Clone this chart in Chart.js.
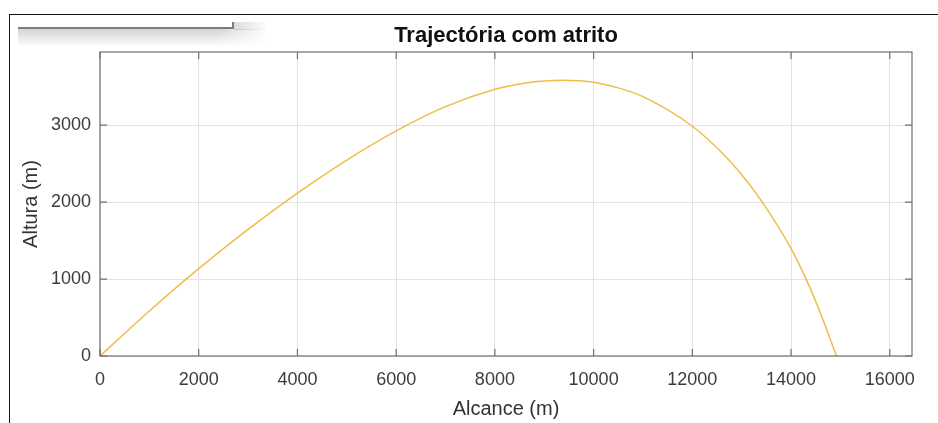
<!DOCTYPE html>
<html>
<head>
<meta charset="utf-8">
<title>Trajectória com atrito</title>
<script src="https://cdn.jsdelivr.net/npm/chart.js@4.4.1/dist/chart.umd.min.js"></script>
<style>
  html, body { margin: 0; padding: 0; background: #fff; }
  #wrap { position: relative; width: 938px; height: 423px; overflow: hidden; background: #fff; }
  #wrap canvas { position: absolute; left: 0; top: 0; }
  .frame-top { position: absolute; left: 9px; top: 14px; width: 929px; height: 1px; background: #111; }
  .frame-left { position: absolute; left: 9px; top: 14px; width: 1px; height: 409px; background: #111; }
  .panel-shade { position: absolute; left: 18px; top: 29px; width: 250px; height: 18px;
    background: linear-gradient(to bottom, rgba(0,0,0,0.17), rgba(0,0,0,0));
    -webkit-mask-image: linear-gradient(to right, #000 80%, transparent);
    mask-image: linear-gradient(to right, #000 80%, transparent); }
  .panel-shade-side { position: absolute; left: 234px; top: 22px; width: 34px; height: 8px;
    background: linear-gradient(to right, rgba(0,0,0,0.14), rgba(0,0,0,0)); }
  .panel-edge { position: absolute; left: 18px; top: 27px; width: 216px; height: 2px; background: #7c7c7c; }
  .panel-notch { position: absolute; left: 232px; top: 22px; width: 2px; height: 7px; background: #7c7c7c; }
</style>
</head>
<body>
<div id="wrap">
  <canvas id="trajChart" width="938" height="423"></canvas>
  <div class="frame-top"></div>
  <div class="frame-left"></div>
  <div class="panel-shade"></div>
  <div class="panel-shade-side"></div>
  <div class="panel-edge"></div>
  <div class="panel-notch"></div>
</div>
<script>
// projectile path with air drag: range (m) vs height (m)
const alcance = [0, 1000, 2000, 3000, 4000, 5000, 6000, 7000, 8000, 8500, 9000, 9400,
                 9700, 10000, 10500, 11000, 12000, 12600, 13000, 13400, 14000, 14300, 14600, 14920];
const altura = [0, 585, 1135, 1645, 2115, 2545, 2925, 3240, 3465, 3535, 3572, 3582,
                3577, 3558, 3484, 3370, 2985, 2640, 2355, 2015, 1395, 1005, 550, 0];

const xTicks = [0, 2000, 4000, 6000, 8000, 10000, 12000, 14000, 16000];
const yTicks = [0, 1000, 2000, 3000];
const xMax = 16450;
const yMax = 3950;

const fontFamily = '"Liberation Sans", Arial, Helvetica, sans-serif';

// box round the axes with inward tick marks on all four sides
const axesBox = {
    id: 'axesBox',
    afterDatasetsDraw(chart) {
        const {ctx, chartArea: a, scales: {x, y}} = chart;
        const len = 7;
        ctx.save();
        ctx.strokeStyle = '#707070';
        ctx.lineWidth = 1.2;
        ctx.beginPath();
        xTicks.forEach(v => {
            const px = x.getPixelForValue(v);
            ctx.moveTo(px, a.bottom);
            ctx.lineTo(px, a.bottom - len);
            ctx.moveTo(px, a.top);
            ctx.lineTo(px, a.top + len);
        });
        yTicks.forEach(v => {
            const py = y.getPixelForValue(v);
            ctx.moveTo(a.left, py);
            ctx.lineTo(a.left + len, py);
            ctx.moveTo(a.right, py);
            ctx.lineTo(a.right - len, py);
        });
        ctx.stroke();
        ctx.strokeRect(a.left, a.top, a.right - a.left, a.bottom - a.top);
        ctx.restore();
    }
};

const ctx = document.getElementById('trajChart').getContext('2d');

new Chart(ctx, {
    type: 'line',
    data: {
        datasets: [{
            label: 'Trajectória',
            data: alcance.map((v, i) => ({x: v, y: altura[i]})),
            borderColor: '#eebd4a',
            borderWidth: 1.5,
            pointRadius: 0,
            fill: false,
            cubicInterpolationMode: 'monotone'
        }]
    },
    options: {
        responsive: false,
        animation: false,
        layout: {
            padding: {left: 0, right: 26, top: 0, bottom: 0}
        },
        plugins: {
            legend: {display: false},
            tooltip: {enabled: false},
            title: {
                display: true,
                fullSize: false,
                text: 'Trajectória com atrito',
                color: '#111',
                font: {family: fontFamily, size: 22, weight: 'bold'},
                padding: {top: 22.5, bottom: 3.1}
            }
        },
        scales: {
            x: {
                type: 'linear',
                min: 0,
                max: xMax,
                afterBuildTicks: scale => {
                    scale.ticks = xTicks.map(v => ({value: v}));
                },
                afterFit: scale => {
                    scale.height = 67;
                },
                border: {display: false},
                grid: {color: '#e3e3e3', drawTicks: false},
                ticks: {
                    color: '#3c3c3c',
                    font: {family: fontFamily, size: 18},
                    padding: 13,
                    maxRotation: 0,
                    autoSkip: false,
                    callback: v => String(v)
                },
                title: {
                    display: true,
                    text: 'Alcance (m)',
                    color: '#333',
                    font: {family: fontFamily, size: 20},
                    padding: {top: 0, bottom: 2}
                }
            },
            y: {
                type: 'linear',
                min: 0,
                max: yMax,
                afterBuildTicks: scale => {
                    scale.ticks = yTicks.map(v => ({value: v}));
                },
                afterFit: scale => {
                    scale.width = 100;
                },
                border: {display: false},
                grid: {color: '#e3e3e3', drawTicks: false},
                ticks: {
                    color: '#3c3c3c',
                    font: {family: fontFamily, size: 18},
                    padding: 9,
                    autoSkip: false,
                    callback: v => String(v)
                },
                title: {
                    display: true,
                    text: 'Altura (m)',
                    color: '#333',
                    font: {family: fontFamily, size: 20},
                    padding: {top: 19, bottom: 0}
                }
            }
        }
    },
    plugins: [axesBox]
});
</script>
</body>
</html>
